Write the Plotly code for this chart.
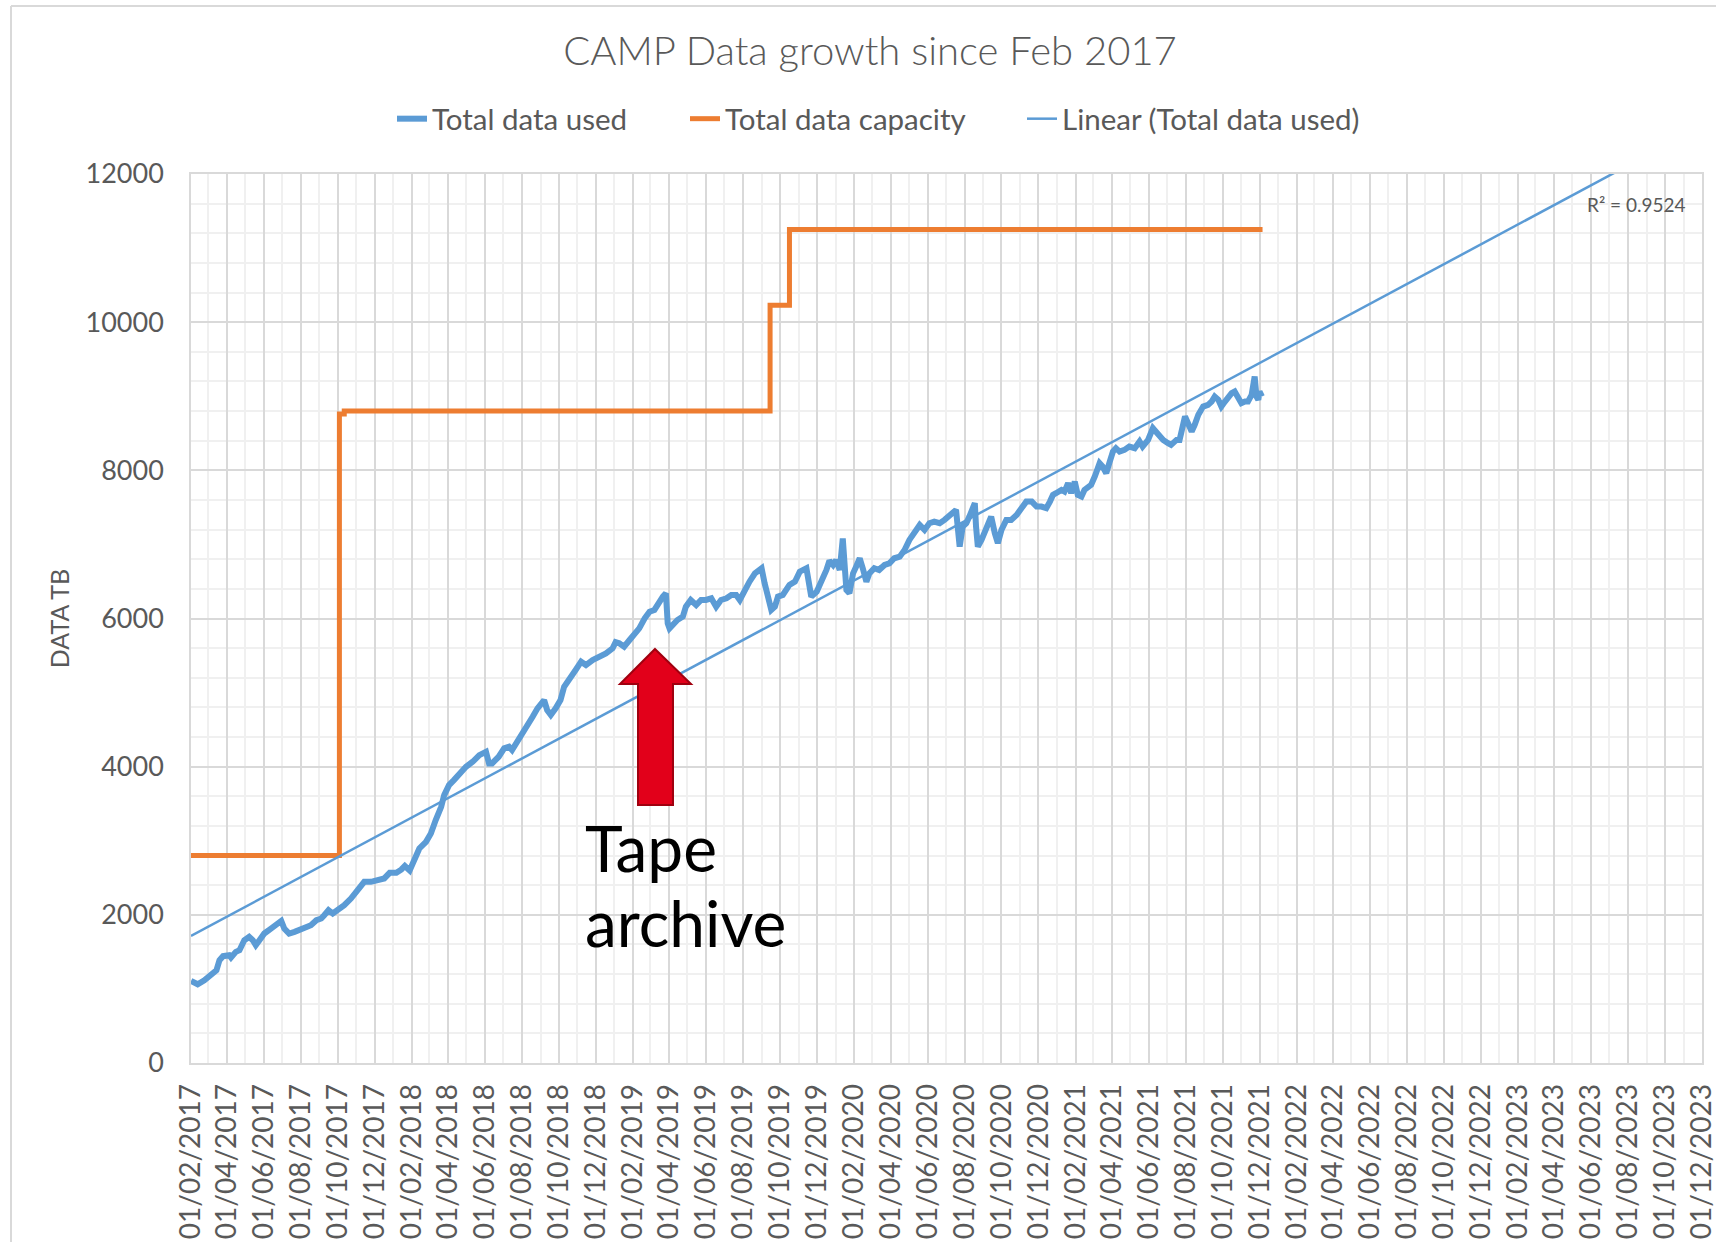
import numpy as np
import pandas as pd
import plotly.graph_objects as go

# ---------------- data ----------------
TITLE = "CAMP Data growth since Feb 2017"
Y_TITLE = "DATA TB"
SERIES_USED = "Total data used"
SERIES_CAP = "Total data capacity"
SERIES_TREND = "Linear (Total data used)"
R2_LABEL = "R² = 0.9524"
NOTE_LINES = ["Tape", "archive"]

X_START = "2017-02-01"
X_END = "2023-12-01 12:00"

used_dates = [
    "2017-02-01", "2017-02-12", "2017-02-23", "2017-03-06", "2017-03-15", "2017-03-20", "2017-03-26",
    "2017-04-05", "2017-04-08", "2017-04-16", "2017-04-22", "2017-04-30", "2017-05-08", "2017-05-14",
    "2017-05-19", "2017-05-25", "2017-06-02", "2017-06-13", "2017-06-21", "2017-06-30", "2017-07-05",
    "2017-07-13", "2017-07-22", "2017-07-30", "2017-08-07", "2017-08-18", "2017-08-27", "2017-09-04",
    "2017-09-09", "2017-09-16", "2017-09-23", "2017-10-01", "2017-10-12", "2017-10-23", "2017-11-03",
    "2017-11-14", "2017-11-25", "2017-12-06", "2017-12-17", "2017-12-26", "2018-01-06", "2018-01-14",
    "2018-01-20", "2018-01-28", "2018-02-05", "2018-02-13", "2018-02-24", "2018-03-04", "2018-03-12",
    "2018-03-21", "2018-03-26", "2018-04-03", "2018-04-11", "2018-04-20", "2018-05-01", "2018-05-12",
    "2018-05-23", "2018-06-03", "2018-06-08", "2018-06-13", "2018-06-24", "2018-07-03", "2018-07-11",
    "2018-07-16", "2018-07-25", "2018-08-02", "2018-08-10", "2018-08-19", "2018-08-27", "2018-09-07",
    "2018-09-12", "2018-09-18", "2018-09-26", "2018-10-04", "2018-10-10", "2018-10-21", "2018-10-29",
    "2018-11-07", "2018-11-15", "2018-11-26", "2018-12-07", "2018-12-18", "2018-12-29", "2019-01-03",
    "2019-01-09", "2019-01-17", "2019-01-26", "2019-02-03", "2019-02-11", "2019-02-20", "2019-02-28",
    "2019-03-08", "2019-03-14", "2019-03-22", "2019-03-27", "2019-03-30", "2019-04-02", "2019-04-07",
    "2019-04-15", "2019-04-24", "2019-04-29", "2019-05-07", "2019-05-16", "2019-05-24", "2019-06-01",
    "2019-06-10", "2019-06-18", "2019-06-26", "2019-07-05", "2019-07-13", "2019-07-21", "2019-07-27",
    "2019-08-04", "2019-08-12", "2019-08-21", "2019-09-01", "2019-09-06", "2019-09-12", "2019-09-17",
    "2019-09-23", "2019-09-28", "2019-10-06", "2019-10-12", "2019-10-17", "2019-10-26", "2019-11-03",
    "2019-11-14", "2019-11-22", "2019-12-01", "2019-12-09", "2019-12-17", "2019-12-22", "2019-12-28",
    "2020-01-02", "2020-01-08", "2020-01-13", "2020-01-16", "2020-01-19", "2020-01-24", "2020-01-30",
    "2020-02-04", "2020-02-10", "2020-02-15", "2020-02-21", "2020-02-26", "2020-03-05", "2020-03-13",
    "2020-03-22", "2020-03-30", "2020-04-07", "2020-04-16", "2020-04-24", "2020-05-02", "2020-05-10",
    "2020-05-19", "2020-05-27", "2020-06-04", "2020-06-12", "2020-06-21", "2020-06-29", "2020-07-07",
    "2020-07-15", "2020-07-18", "2020-07-24", "2020-07-29", "2020-08-04", "2020-08-09", "2020-08-18",
    "2020-08-20", "2020-08-23", "2020-08-29", "2020-09-06", "2020-09-14", "2020-09-20", "2020-09-25",
    "2020-10-01", "2020-10-09", "2020-10-17", "2020-10-26", "2020-11-03", "2020-11-11", "2020-11-20",
    "2020-11-28", "2020-12-06", "2020-12-14", "2020-12-20", "2020-12-25", "2020-12-30", "2021-01-08",
    "2021-01-13", "2021-01-19", "2021-01-24", "2021-01-30", "2021-02-04", "2021-02-10", "2021-02-15",
    "2021-02-21", "2021-02-26", "2021-03-04", "2021-03-12", "2021-03-17", "2021-03-23", "2021-03-28",
    "2021-04-03", "2021-04-08", "2021-04-14", "2021-04-22", "2021-04-30", "2021-05-09", "2021-05-17",
    "2021-05-22", "2021-05-31", "2021-06-08", "2021-06-16", "2021-06-25", "2021-07-03", "2021-07-08",
    "2021-07-17", "2021-07-22", "2021-07-31", "2021-08-05", "2021-08-11", "2021-08-16", "2021-08-22",
    "2021-08-30", "2021-09-07", "2021-09-13", "2021-09-18", "2021-09-24", "2021-09-29", "2021-10-05",
    "2021-10-10", "2021-10-16", "2021-10-21", "2021-10-27", "2021-11-01", "2021-11-07", "2021-11-12",
    "2021-11-18", "2021-11-23", "2021-11-26", "2021-11-29", "2021-12-01", "2021-12-05",
]
used_tb = [
    1108, 1063, 1117, 1185, 1252, 1387, 1442,
    1455, 1424, 1500, 1522, 1657, 1702, 1657,
    1590, 1657, 1748, 1815, 1873, 1918, 1815,
    1748, 1770, 1793, 1815, 1860, 1927, 1950,
    1995, 2063, 2018, 2063, 2130, 2220, 2333,
    2445, 2445, 2459, 2491, 2567, 2567, 2610,
    2660, 2600, 2761, 2896, 2986, 3099, 3279,
    3458, 3616, 3751, 3819, 3909, 3999, 4066,
    4156, 4201, 4044, 4044, 4134, 4247, 4269,
    4224, 4336, 4449, 4561, 4674, 4787, 4899,
    4764, 4697, 4787, 4899, 5079, 5192, 5305,
    5417, 5372, 5440, 5484, 5530, 5597, 5680,
    5665, 5620, 5710, 5777, 5867, 6003, 6092,
    6115, 6205, 6295, 6340, 5935, 5867, 5912,
    5980, 6025, 6160, 6250, 6182, 6250, 6250,
    6273, 6160, 6250, 6273, 6318, 6318, 6250,
    6385, 6497, 6610, 6678, 6476, 6250, 6115,
    6160, 6295, 6318, 6385, 6453, 6497, 6633,
    6678, 6295, 6363, 6497, 6655, 6780, 6723,
    6790, 6655, 7080, 6700, 6385, 6340, 6610,
    6700, 6813, 6678, 6497, 6610, 6678, 6655,
    6723, 6745, 6813, 6835, 6925, 7061, 7173,
    7263, 7196, 7286, 7308, 7286, 7331, 7376,
    7443, 7466, 6970, 7240, 7286, 7376, 7556,
    7240, 6970, 7061, 7240, 7376, 7151, 7016,
    7196, 7331, 7331, 7398, 7489, 7578, 7578,
    7511, 7511, 7489, 7578, 7668, 7691, 7736,
    7713, 7826, 7691, 7848, 7668, 7646, 7736,
    7781, 7803, 7916, 8096, 8051, 7961, 8096,
    8253, 8299, 8253, 8276, 8321, 8299, 8389,
    8321, 8411, 8569, 8479, 8411, 8367, 8344,
    8411, 8411, 8726, 8614, 8524, 8614, 8749,
    8861, 8884, 8929, 8996, 8952, 8861, 8929,
    8996, 9042, 9064, 8996, 8907, 8929, 8929,
    9019, 9267, 8996, 8952, 9064, 8996,
]

cap_dates = ["2017-02-01", "2017-10-04", "2017-10-12", "2019-09-15", "2019-10-17", "2021-12-06"]
cap_tb = [2800, 8760, 8800, 10230, 11250, 11250]

# ---------------- styling ----------------
BLUE = "#5b9bd5"
ORANGE = "#ed7d31"
GREY_TXT = "#595959"
GRID_MAJ = "#d9d9d9"
GRID_MIN = "#f0f0f0"
FONT = "Lato, 'Open Sans', sans-serif"

W, H = 1716, 1242
L, R, T, B = 191, 1702, 174, 1063


def px(x):
    return (x - L) / (R - L)


def py(y):
    return (B - y) / (B - T)


# linear trend (least squares on the used series, like the spreadsheet trendline)
d_used = pd.to_datetime(used_dates)
t0 = d_used[0]
days = np.array((d_used - t0).days, dtype=float)
slope, intercept = np.polyfit(days, np.array(used_tb, dtype=float), 1)
trend_x = [pd.Timestamp(X_START), pd.Timestamp(X_END)]
trend_days = np.array([(t - t0).total_seconds() / 86400.0 for t in trend_x], dtype=float)
trend_y = intercept + slope * trend_days

fig = go.Figure()
fig.add_trace(go.Scatter(x=d_used, y=used_tb, mode="lines", name=SERIES_USED, legend="legend",
                         showlegend=True, line=dict(color=BLUE, width=6)))
fig.add_trace(go.Scatter(x=pd.to_datetime(cap_dates), y=cap_tb, mode="lines", name=SERIES_CAP,
                         legend="legend2", showlegend=True, line=dict(color=ORANGE, width=5, shape="hv")))
fig.add_trace(go.Scatter(x=trend_x, y=trend_y, mode="lines", name=SERIES_TREND, legend="legend3",
                         showlegend=True, line=dict(color=BLUE, width=2.5)))


def legend_at(xpix):
    return dict(orientation="h", x=px(xpix), xanchor="left", y=py(119), yanchor="middle",
                font=dict(size=29.5, color=GREY_TXT, family=FONT), bgcolor="rgba(0,0,0,0)")


fig.update_layout(
    width=W, height=H,
    showlegend=True,
    margin=dict(l=L, r=W - R, t=T, b=H - B, autoexpand=False),
    paper_bgcolor="white", plot_bgcolor="white",
    font=dict(family=FONT, color=GREY_TXT, size=27),
    title=dict(text=TITLE, x=870 / W, xref="container", xanchor="center",
               y=1 - 51 / H, yref="container", yanchor="middle",
               font=dict(size=40, color=GREY_TXT, family=FONT, weight=300)),
    legend=legend_at(392),
    legend2=legend_at(685),
    legend3=legend_at(1022),
    xaxis=dict(type="date", range=[X_START, X_END], tick0="2017-02-01", dtick="M2",
               tickformat="%d/%m/%Y", tickangle=-90, showgrid=True, gridcolor=GRID_MAJ, gridwidth=1.5,
               minor=dict(dtick="M1", tick0="2017-02-01", showgrid=True, gridcolor=GRID_MIN, gridwidth=1.5),
               showline=True, linecolor=GRID_MAJ, linewidth=1.5, mirror=True, zeroline=False,
               tickfont=dict(size=28, color=GREY_TXT), ticklabelstandoff=8, automargin=False,
               ticklabeloverflow="allow"),
    yaxis=dict(range=[0, 12000], tick0=0, dtick=2000, tickformat="d", showgrid=True,
               gridcolor=GRID_MAJ, gridwidth=1.5,
               minor=dict(dtick=400, showgrid=True, gridcolor=GRID_MIN, gridwidth=1.5),
               showline=True, linecolor=GRID_MAJ, linewidth=1.5, mirror=True, zeroline=False,
               tickfont=dict(size=27, color=GREY_TXT), ticklabelstandoff=20, automargin=False,
               title=dict(text=Y_TITLE, font=dict(size=25, color=GREY_TXT), standoff=9)),
)

# R² label
fig.add_annotation(text=R2_LABEL, x=px(1636), y=py(205), xref="paper", yref="paper",
                   showarrow=False, xanchor="center", yanchor="middle",
                   font=dict(size=19, color=GREY_TXT))

# "Tape archive" note
fig.add_annotation(text=NOTE_LINES[0], x=px(583), y=py(847), xref="paper", yref="paper",
                   showarrow=False, xanchor="left", yanchor="middle",
                   font=dict(size=64, color="black"))
fig.add_annotation(text=NOTE_LINES[1], x=px(583), y=py(922), xref="paper", yref="paper",
                   showarrow=False, xanchor="left", yanchor="middle",
                   font=dict(size=64, color="black"))

# block arrow (callout shape)
arrow_pts = [(655, 649), (691, 684), (673, 684), (673, 805), (638, 805), (638, 684), (620, 684)]
path = "M " + " L ".join(f"{px(x):.5f},{py(y):.5f}" for x, y in arrow_pts) + " Z"
fig.add_shape(type="path", path=path, xref="paper", yref="paper",
              fillcolor="#e2001a", line=dict(color="#a0000f", width=2), layer="above")

# chart-area border (top and left visible)
fig.add_shape(type="line", xref="paper", yref="paper", x0=px(11), x1=px(1716), y0=py(6), y1=py(6),
              line=dict(color=GRID_MAJ, width=2))
fig.add_shape(type="line", xref="paper", yref="paper", x0=px(11), x1=px(11), y0=py(6), y1=py(1242),
              line=dict(color=GRID_MAJ, width=2))

fig.write_html("out.html", config={"displayModeBar": False},
               post_script="document.body.style.margin='0';document.body.style.overflow='hidden';")
